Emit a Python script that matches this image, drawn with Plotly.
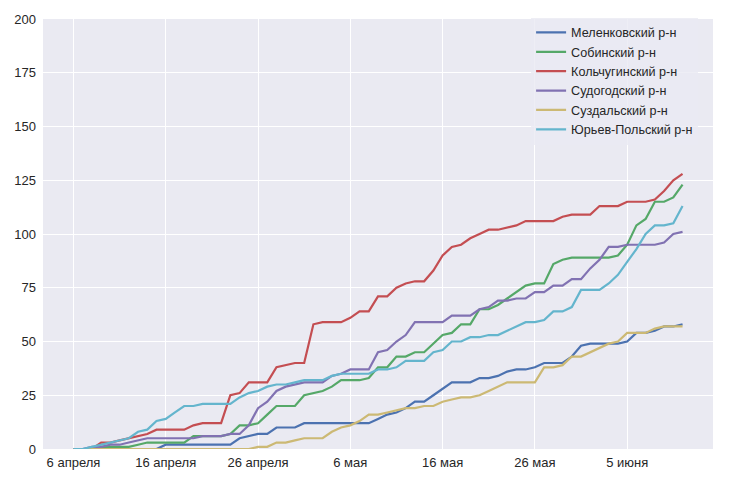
import pandas as pd
import plotly.graph_objects as go

start_date = "2020-04-06"
n_days = 67

names = ["Меленковский р-н", "Собинский р-н", "Кольчугинский р-н",
         "Судогодский р-н", "Суздальский р-н", "Юрьев-Польский р-н"]
colors = ["#4C72B0", "#55A868", "#C44E52", "#8172B2", "#CCB974", "#64B5CD"]

melenki = [0]*10 + [2]*8 + [5, 6, 7, 7, 10, 10, 10] + [12]*8 + \
    [14, 16, 17, 19, 22, 22, 25, 28, 31] + [31, 31, 33, 33, 34, 36, 37, 37, 38] + \
    [40, 40, 40, 43, 48, 49, 49, 49, 49] + [50, 54, 54, 55, 57, 57, 58]
sobinka = [0, 0, 0, 1, 1, 1, 1, 2, 3, 3,
           3, 3, 3, 6, 6, 6, 6, 7, 11, 11,
           12, 16, 20, 20, 20, 25, 26, 27, 29, 32,
           32, 32, 33, 38, 38, 43, 43, 45, 45, 49,
           53, 54, 58, 58, 65, 65, 67, 70, 73, 76,
           77, 77, 86, 88, 89, 89, 89, 89, 89, 90,
           95, 104, 107, 115, 115, 117, 123]
kolchugino = [0, 0, 0, 3, 3, 4, 5, 6, 7, 9,
              9, 9, 9, 11, 12, 12, 12, 25, 26, 31,
              31, 31, 38, 39, 40, 40, 58, 59, 59, 59,
              61, 64, 64, 71, 71, 75, 77, 78, 78, 83,
              90, 94, 95, 98, 100, 102, 102, 103, 104, 106,
              106, 106, 106, 108, 109, 109, 109, 113, 113, 113,
              115, 115, 115, 116, 120, 125, 128]
sudogda = [0, 0, 1, 1, 2, 2, 3, 4, 5, 5,
           5, 5, 5, 5, 6, 6, 6, 7, 7, 11,
           19, 22, 27, 29, 30, 31, 31, 31, 34, 35,
           37, 37, 37, 45, 46, 50, 53, 59, 59, 59,
           59, 62, 62, 62, 65, 66, 69, 69, 70, 70,
           73, 73, 76, 76, 79, 79, 84, 88, 94, 94,
           95, 95, 95, 95, 96, 100, 101]
suzdal = [0]*20 + [1, 1, 3, 3, 4, 5, 5, 5, 8, 10,
                   11, 13, 16, 16, 17, 18, 19, 19, 20, 20,
                   22, 23, 24, 24, 25, 27, 29, 31, 31, 31,
                   31, 38, 38, 39, 43, 43, 45, 47, 49, 50,
                   54, 54, 54, 56, 57, 57, 57]
yuryev = [0, 0, 1, 2, 3, 4, 5, 8, 9, 13,
          14, 17, 20, 20, 21, 21, 21, 21, 24, 26,
          27, 29, 30, 30, 31, 32, 32, 32, 34, 35,
          35, 35, 35, 37, 37, 38, 41, 41, 41, 45,
          46, 50, 50, 52, 52, 53, 53, 55, 57, 59,
          59, 60, 64, 64, 66, 74, 74, 74, 77, 81,
          87, 93, 100, 104, 104, 105, 113]

series = [melenki, sobinka, kolchugino, sudogda, suzdal, yuryev]

tick_dates = ["2020-04-06", "2020-04-16", "2020-04-26", "2020-05-06",
              "2020-05-16", "2020-05-26", "2020-06-05"]
tick_labels = ["6 апреля", "16 апреля", "26 апреля", "6 мая",
               "16 мая", "26 мая", "5 июня"]
y_ticks = [0, 25, 50, 75, 100, 125, 150, 175, 200]

dates = pd.date_range(start_date, periods=n_days, freq="D")
pad = pd.Timedelta(days=3.3)
x_range = [dates[0] - pad, dates[-1] + pad]

fig = go.Figure()
for name, color, vals in zip(names, colors, series):
    fig.add_trace(go.Scatter(x=dates, y=vals, mode="lines", name=name,
                             line=dict(color=color, width=2.2)))

font_family = "Liberation Sans, Arial, sans-serif"
fig.update_layout(
    width=736, height=488,
    margin=dict(l=43, r=23, t=14, b=39),
    paper_bgcolor="white",
    plot_bgcolor="#EAEAF2",
    font=dict(family=font_family, size=13, color="#262626"),
    showlegend=True,
    legend=dict(x=0.7285, y=1.003, xanchor="left", yanchor="top",
                bgcolor="rgba(234,234,242,0.8)", borderwidth=0,
                font=dict(size=12.6, color="#262626"),
                tracegroupgap=0),
)
fig.update_xaxes(range=x_range, tickvals=pd.to_datetime(tick_dates),
                 ticktext=tick_labels, showgrid=True, gridcolor="white",
                 gridwidth=1.2, zeroline=False, showline=False, ticks="",
                 ticklabelstandoff=4)
fig.update_yaxes(range=[0, 200], tickvals=y_ticks, showgrid=True,
                 gridcolor="white", gridwidth=1.2, zeroline=False,
                 showline=False, ticks="", ticklabelstandoff=6)

fig.write_html("out.html", config={"displayModeBar": False},
               post_script="document.body.style.margin='0';")
